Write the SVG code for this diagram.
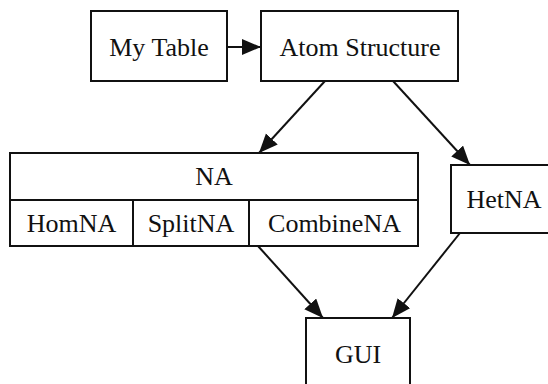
<svg xmlns="http://www.w3.org/2000/svg" width="548" height="384" viewBox="0 0 548 384">
<style>
.box{fill:#fff;stroke:#111;stroke-width:2}
.c{stroke:#111;stroke-width:2;fill:none;marker-end:url(#ah)}
</style>
<defs>
<marker id="ah" markerUnits="userSpaceOnUse" markerWidth="22" markerHeight="18" refX="19" refY="8" orient="auto">
<path d="M0,0 L19,8 L0,16 Z" fill="#111"/>
</marker>
</defs>
<rect width="548" height="384" fill="#fff"/>
<g id="connectors">
<line class="c" x1="227" y1="47" x2="261" y2="47"/>
<line class="c" x1="325" y1="81" x2="259" y2="153"/>
<line class="c" x1="393" y1="81" x2="470" y2="165"/>
<line class="c" x1="258" y1="246" x2="323" y2="318"/>
<line class="c" x1="460" y1="233" x2="392" y2="318"/>
</g>
<g id="mytable">
<rect class="box" x="91" y="11" width="136" height="70"/>
<text x="159" y="56" font-family="Liberation Serif" font-size="26" fill="#111" text-anchor="middle">My Table</text>
</g>
<g id="atom">
<rect class="box" x="261" y="11" width="197" height="70"/>
<text x="360" y="56" font-family="Liberation Serif" font-size="26" fill="#111" text-anchor="middle">Atom Structure</text>
</g>
<g id="na">
<rect class="box" x="10" y="153" width="408" height="93"/>
<line x1="10" y1="200" x2="418" y2="200" stroke="#111" stroke-width="2"/>
<line x1="133" y1="200" x2="133" y2="246" stroke="#111" stroke-width="2"/>
<line x1="249" y1="200" x2="249" y2="246" stroke="#111" stroke-width="2"/>
<text x="214" y="185" font-family="Liberation Serif" font-size="26" fill="#111" text-anchor="middle">NA</text>
<text x="71.5" y="232" font-family="Liberation Serif" font-size="26" fill="#111" text-anchor="middle">HomNA</text>
<text x="191" y="232" font-family="Liberation Serif" font-size="26" fill="#111" text-anchor="middle">SplitNA</text>
<text x="334.5" y="232" font-family="Liberation Serif" font-size="26" fill="#111" text-anchor="middle">CombineNA</text>
</g>
<g id="hetna">
<rect class="box" x="451" y="165" width="110" height="68"/>
<text x="504" y="208" font-family="Liberation Serif" font-size="26" fill="#111" text-anchor="middle">HetNA</text>
</g>
<g id="gui">
<rect class="box" x="306" y="318" width="104" height="80"/>
<text x="358" y="363" font-family="Liberation Serif" font-size="26" fill="#111" text-anchor="middle">GUI</text>
</g>
</svg>
